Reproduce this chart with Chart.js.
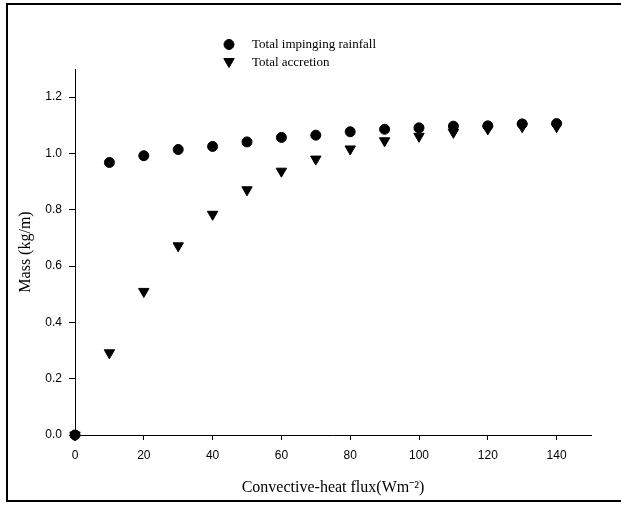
<!DOCTYPE html>
<html>
<head>
<meta charset="utf-8">
<style>
  html, body { margin: 0; padding: 0; background: #ffffff; }
  canvas { display: block; }
</style>
<script src="https://cdn.jsdelivr.net/npm/chart.js@4.4.1/dist/chart.umd.min.js"></script>
</head>
<body>
<canvas id="c" width="621" height="508"></canvas>
<script>
const fluxValues = [0, 10, 20, 30, 40, 50, 60, 70, 80, 90, 100, 110, 120, 130, 140];
const impingingRainfall = [0, 0.968, 0.992, 1.014, 1.025, 1.041, 1.057, 1.065, 1.077, 1.086, 1.091, 1.097, 1.098, 1.105, 1.106];
const totalAccretion = [0, 0.292, 0.510, 0.672, 0.784, 0.871, 0.937, 0.980, 1.016, 1.045, 1.061, 1.075, 1.087, 1.095, 1.095];
const seriesLabels = ['Total impinging rainfall', 'Total accretion'];
const xTitle = 'Convective-heat flux(Wm\u207B\u00B2)';
const yTitle = 'Mass (kg/m)';

const toPoints = (xs, ys) => xs.map((x, i) => ({ x: x, y: ys[i] }));

const framePlugin = {
  id: 'frame',
  afterDraw(chart) {
    const ctx = chart.ctx;
    ctx.save();
    ctx.strokeStyle = '#000';
    ctx.lineWidth = 2;
    ctx.beginPath();
    ctx.moveTo(630, 4);
    ctx.lineTo(7, 4);
    ctx.lineTo(7, 501);
    ctx.lineTo(630, 501);
    ctx.stroke();

    // legend
    const items = chart.data.datasets;
    const lx = 229, ly = [44.5, 63];
    ctx.font = '13px "Liberation Serif", "Times New Roman", serif';
    ctx.textBaseline = 'middle';
    ctx.textAlign = 'left';
    items.forEach((ds, i) => {
      ctx.fillStyle = '#000';
      ctx.strokeStyle = '#000';
      ctx.lineWidth = 1;
      Chart.helpers.drawPoint(ctx, {
        pointStyle: ds.pointStyle,
        radius: ds.pointRadius,
        rotation: ds.rotation || 0,
        borderWidth: 1
      }, lx, ly[i] + (ds.pointStyle === 'triangle' ? -1.5 : 0));
      ctx.fillStyle = '#000';
      ctx.fillText(ds.label, 252, ly[i]);
    });
    ctx.restore();
  }
};

new Chart(document.getElementById('c'), {
  type: 'scatter',
  data: {
    datasets: [
      {
        label: seriesLabels[0],
        data: toPoints(fluxValues, impingingRainfall),
        pointStyle: 'circle',
        pointRadius: 5,
        backgroundColor: '#000',
        borderColor: '#000',
        borderWidth: 1,
        clip: false
      },
      {
        label: seriesLabels[1],
        data: toPoints(fluxValues, totalAccretion),
        pointStyle: 'triangle',
        rotation: 180,
        pointRadius: 6,
        backgroundColor: '#000',
        borderColor: '#000',
        borderWidth: 1,
        clip: false
      }
    ]
  },
  options: {
    responsive: false,
    animation: false,
    devicePixelRatio: 1,
    layout: { padding: { left: 0, top: 69, right: 30, bottom: 0 } },
    plugins: {
      legend: { display: false },
      tooltip: { enabled: false }
    },
    scales: {
      x: {
        type: 'linear',
        min: 0,
        max: 150,
        afterFit(s) { s.height = 73; },
        afterBuildTicks(s) { s.ticks = s.ticks.filter(t => t.value <= 140); },
        ticks: {
          stepSize: 20,
          color: '#000',
          padding: 8,
          font: { family: '"Liberation Sans", Arial, sans-serif', size: 12 },
          maxRotation: 0
        },
        grid: {
          drawOnChartArea: false,
          drawTicks: true,
          tickLength: 5,
          color: '#000'
        },
        border: { display: true, color: '#000', width: 1 },
        title: {
          display: true,
          text: xTitle,
          color: '#000',
          font: { family: '"Liberation Serif", "Times New Roman", serif', size: 16 },
          padding: { top: 0, bottom: 10.5 }
        }
      },
      y: {
        type: 'linear',
        min: 0,
        max: 1.3,
        afterFit(s) { s.width = 75; },
        afterBuildTicks(s) { s.ticks = s.ticks.filter(t => t.value <= 1.2 + 1e-9); },
        ticks: {
          stepSize: 0.2,
          color: '#000',
          padding: 7,
          font: { family: '"Liberation Sans", Arial, sans-serif', size: 12 },
          callback: v => Number(v).toFixed(1)
        },
        grid: {
          drawOnChartArea: false,
          drawTicks: true,
          tickLength: 6,
          color: '#000'
        },
        border: { display: true, color: '#000', width: 1 },
        title: {
          display: true,
          text: yTitle,
          color: '#000',
          font: { family: '"Liberation Serif", "Times New Roman", serif', size: 16 },
          padding: { top: 16, bottom: 0 }
        }
      }
    }
  },
  plugins: [framePlugin]
});
</script>
</body>
</html>
